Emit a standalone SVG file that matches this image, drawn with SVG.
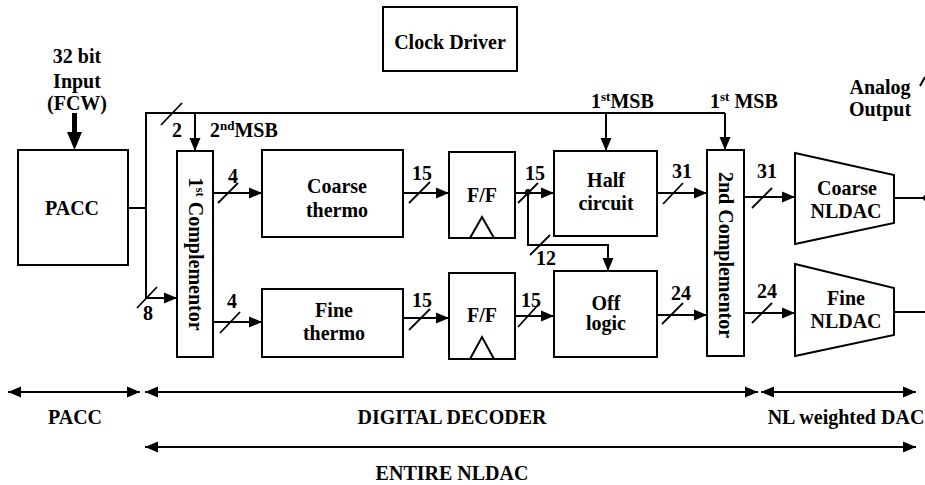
<svg xmlns="http://www.w3.org/2000/svg" width="925" height="485" viewBox="0 0 925 485" font-family="'Liberation Serif', 'Times New Roman', Tinos, 'DejaVu Serif', serif">
  <defs>
    <style>
      .box { fill: #fff; stroke: #000; stroke-width: 2; }
      .wire { fill: none; stroke: #000; stroke-width: 2; }
      .arrow { marker-end: url(#head); }
      .span { fill: none; stroke: #000; stroke-width: 2; marker-start: url(#head); marker-end: url(#head); }
      .bus { stroke: #000; stroke-width: 1.8; }
      text { font-family: 'Liberation Serif', 'Times New Roman', Tinos, 'DejaVu Serif', serif; font-weight: bold; font-size: 20px; fill: #000; }
      .mid { text-anchor: middle; }
      .sup { font-size: 13px; }
    </style>
    <marker id="head" markerUnits="userSpaceOnUse" markerWidth="14" markerHeight="12" refX="13" refY="6" orient="auto-start-reverse">
      <path d="M0,0.5 L13,6 L0,11.5 Z" fill="#000"/>
    </marker>
  </defs>

  <!-- blocks -->
  <g id="clock-driver">
    <rect class="box" x="383" y="7" width="134" height="64"/>
    <text class="mid" x="450" y="49">Clock Driver</text>
  </g>
  <g id="input-label">
    <text class="mid" x="77" y="63">32 bit</text>
    <text class="mid" x="77" y="88">Input</text>
    <text class="mid" x="77" y="110">(FCW)</text>
    <rect x="72" y="113" width="5" height="20" fill="#000"/>
    <path d="M67,132 L82,132 L74.5,150 Z" fill="#000"/>
  </g>
  <g id="pacc">
    <rect class="box" x="18" y="150" width="110" height="115"/>
    <text class="mid" x="72" y="215">PACC</text>
  </g>
  <g id="complementor-1">
    <rect class="box" x="177" y="151" width="36" height="206"/>
    <text class="mid" transform="translate(189,254) rotate(90)">1<tspan class="sup" dy="-7">st</tspan><tspan dy="7"> Complementor</tspan></text>
  </g>
  <g id="coarse-thermo">
    <rect class="box" x="262" y="150" width="141" height="87"/>
    <text class="mid" x="337" y="193">Coarse</text>
    <text class="mid" x="337" y="217">thermo</text>
  </g>
  <g id="fine-thermo">
    <rect class="box" x="262" y="289" width="141" height="68"/>
    <text class="mid" x="334" y="317">Fine</text>
    <text class="mid" x="334" y="340">thermo</text>
  </g>
  <g id="ff-coarse">
    <rect class="box" x="449" y="152" width="66" height="86"/>
    <text class="mid" x="482" y="202">F/F</text>
    <path class="wire" d="M470,238 L482,217 L494,238"/>
  </g>
  <g id="ff-fine">
    <rect class="box" x="449" y="273" width="66" height="86"/>
    <text class="mid" x="482" y="322">F/F</text>
    <path class="wire" d="M470,359 L482,337 L494,359"/>
  </g>
  <g id="half-circuit">
    <rect class="box" x="554" y="151" width="103" height="85"/>
    <text class="mid" x="606" y="187">Half</text>
    <text class="mid" x="606" y="210">circuit</text>
  </g>
  <g id="off-logic">
    <rect class="box" x="554" y="271" width="103" height="86"/>
    <text class="mid" x="606" y="310">Off</text>
    <text class="mid" x="606" y="330">logic</text>
  </g>
  <g id="complementor-2">
    <rect class="box" x="707" y="150" width="37" height="206"/>
    <text class="mid" transform="translate(719,255) rotate(90)">2nd Complementor</text>
  </g>
  <g id="coarse-nldac">
    <path class="box" d="M795,153 L894,175 L894,223 L795,244 Z"/>
    <text class="mid" x="847" y="195">Coarse</text>
    <text class="mid" x="846" y="218">NLDAC</text>
  </g>
  <g id="fine-nldac">
    <path class="box" d="M795,264 L894,288 L894,335 L795,356 Z"/>
    <text class="mid" x="846" y="305">Fine</text>
    <text class="mid" x="846" y="328">NLDAC</text>
  </g>
  <g id="analog-output">
    <text class="mid" x="880" y="94">Analog</text>
    <text class="mid" x="880" y="116">Output</text>
  </g>

  <!-- connectors -->
  <g id="connectors">
    <path class="wire" d="M128,208 H146"/>
    <path class="wire" d="M146,298 V113 H725"/>
    <path class="wire arrow" d="M195,113 V151"/>
    <path class="wire arrow" d="M606,113 V151"/>
    <path class="wire arrow" d="M725,113 V150"/>
    <path class="wire arrow" d="M146,298 H177"/>
    <path class="wire arrow" d="M213,193 H262"/>
    <path class="wire arrow" d="M213,322 H262"/>
    <path class="wire arrow" d="M403,193 H449"/>
    <path class="wire arrow" d="M403,318 H449"/>
    <path class="wire arrow" d="M515,193 H554"/>
    <path class="wire arrow" d="M528,193 V245 H608 V271"/>
    <circle cx="528" cy="192" r="3" fill="#000"/>
    <path class="wire arrow" d="M515,316 H554"/>
    <path class="wire arrow" d="M657,193 H707"/>
    <path class="wire arrow" d="M657,315 H707"/>
    <path class="wire arrow" d="M744,197 H795"/>
    <path class="wire arrow" d="M744,313 H795"/>
    <path class="wire" d="M894,198 H925"/>
    <circle cx="926" cy="198" r="3" fill="#000"/>
    <path class="wire" d="M893,312 H925"/>
    <path class="wire" d="M920,86 L925,77"/>

    <!-- bus-width slashes -->
    <line class="bus" x1="161" y1="125" x2="182" y2="103"/>
    <line class="bus" x1="137" y1="308" x2="157" y2="287"/>
    <line class="bus" x1="218" y1="203" x2="238" y2="183"/>
    <line class="bus" x1="220" y1="333" x2="240" y2="312"/>
    <line class="bus" x1="409" y1="203" x2="430" y2="182"/>
    <line class="bus" x1="409" y1="330" x2="430" y2="309"/>
    <line class="bus" x1="518" y1="203" x2="538" y2="183"/>
    <line class="bus" x1="518" y1="327" x2="538" y2="305"/>
    <line class="bus" x1="530" y1="255" x2="550" y2="235"/>
    <line class="bus" x1="663" y1="204" x2="683" y2="183"/>
    <line class="bus" x1="662" y1="324" x2="683" y2="303"/>
    <line class="bus" x1="752" y1="208" x2="772" y2="188"/>
    <line class="bus" x1="752" y1="323" x2="772" y2="303"/>

    <!-- widths and select labels -->
    <text class="mid" x="177" y="137">2</text>
    <text x="210" y="137">2<tspan class="sup" dy="-7">nd</tspan><tspan dy="7">MSB</tspan></text>
    <text x="591" y="108">1<tspan class="sup" dy="-7">st</tspan><tspan dy="7">MSB</tspan></text>
    <text x="710" y="108">1<tspan class="sup" dy="-7">st</tspan><tspan dy="7"> MSB</tspan></text>
    <text class="mid" x="148" y="320">8</text>
    <text class="mid" x="233" y="183">4</text>
    <text class="mid" x="232" y="308">4</text>
    <text class="mid" x="422" y="180">15</text>
    <text class="mid" x="422" y="307">15</text>
    <text class="mid" x="535" y="180">15</text>
    <text class="mid" x="531" y="307">15</text>
    <text class="mid" x="546" y="265">12</text>
    <text class="mid" x="682" y="178">31</text>
    <text class="mid" x="681" y="300">24</text>
    <text class="mid" x="767" y="178">31</text>
    <text class="mid" x="767" y="298">24</text>

    <!-- partition spans -->
    <path class="span" d="M8,392 H140"/>
    <path class="span" d="M145,392 H758"/>
    <path class="span" d="M761,392 H916"/>
    <path class="span" d="M145,447 H916"/>
  </g>

  <g id="span-labels">
    <text class="mid" x="75" y="424">PACC</text>
    <text class="mid" x="452" y="424">DIGITAL DECODER</text>
    <text class="mid" x="846" y="424">NL weighted DAC</text>
    <text class="mid" x="452" y="480">ENTIRE NLDAC</text>
  </g>
</svg>
